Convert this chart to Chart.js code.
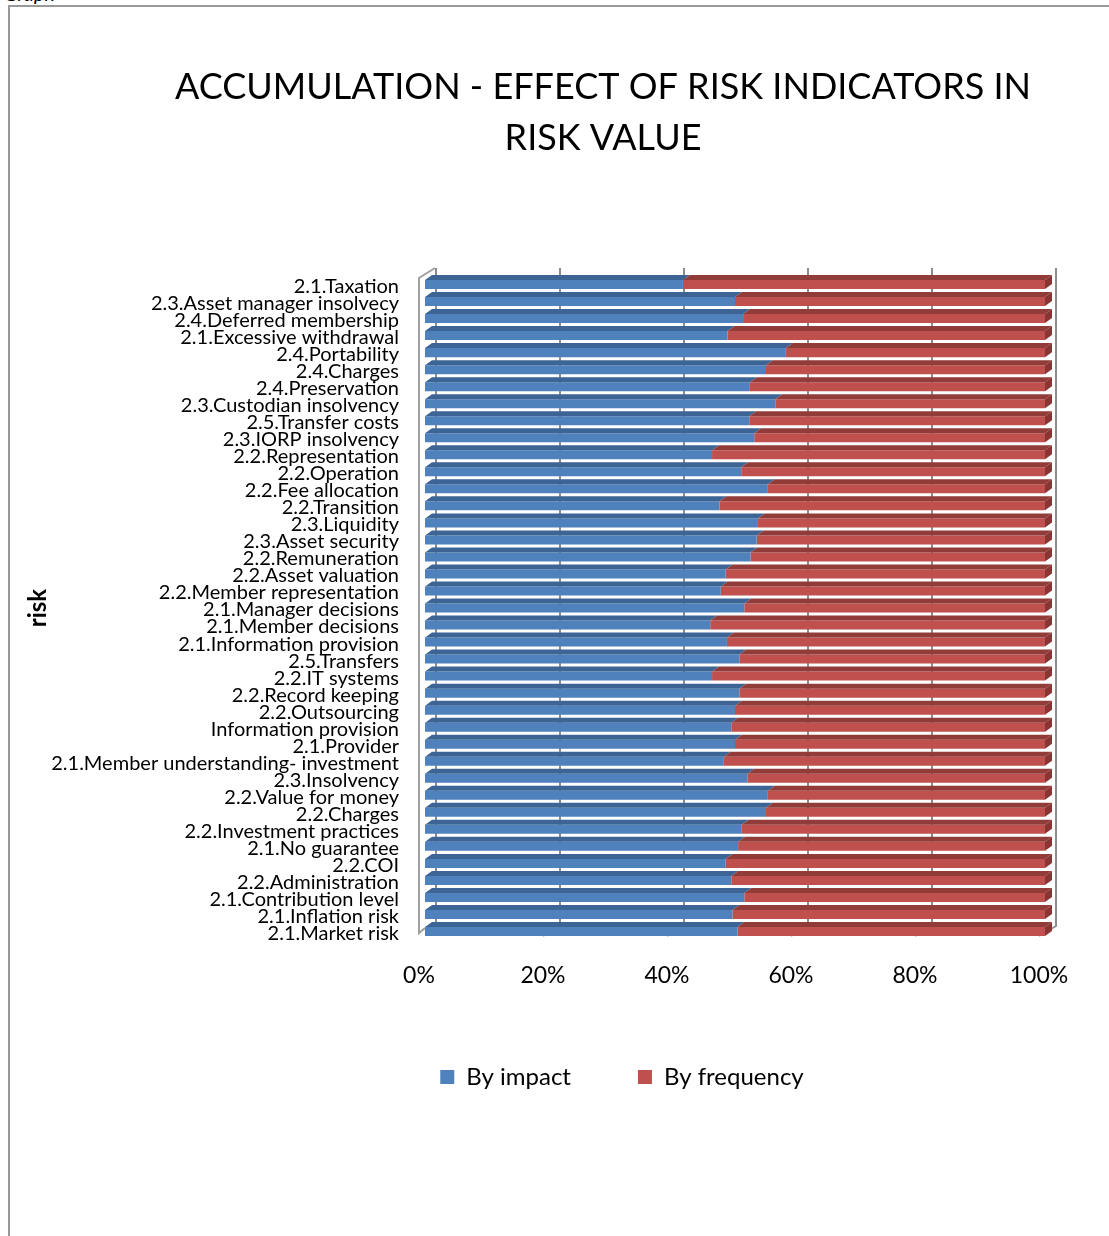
<!DOCTYPE html>
<html>
<head>
<meta charset="utf-8">
<script src="https://cdn.jsdelivr.net/npm/chart.js@4.4.1/dist/chart.umd.min.js"></script>
<style>
	html, body {margin:0; padding:0; background:#fff; overflow:hidden;}
	#frame {position:absolute; left:8px; top:5px; width:1200px; height:1300px; border:2px solid #999;}
	#cut {position:absolute; left:4px; top:-19px; font:italic 20px 'Lato'; color:#000;}
	#wrap {position:absolute; left:0; top:0; width:1186px; height:1236px;}
</style>
</head>
<body>
<div id="cut">Graph</div>
<div id="frame"></div>
<div id="wrap"><canvas id="chart" width="1186" height="1236"></canvas></div>
<script>
// categories, top to bottom as shown
const risks = [
	'2.1.Taxation', '2.3.Asset manager insolvecy', '2.4.Deferred membership', '2.1.Excessive withdrawal',
	'2.4.Portability', '2.4.Charges', '2.4.Preservation', '2.3.Custodian insolvency', '2.5.Transfer costs',
	'2.3.IORP insolvency', '2.2.Representation', '2.2.Operation', '2.2.Fee allocation', '2.2.Transition',
	'2.3.Liquidity', '2.3.Asset security', '2.2.Remuneration', '2.2.Asset valuation', '2.2.Member representation',
	'2.1.Manager decisions', '2.1.Member decisions', '2.1.Information provision', '2.5.Transfers', '2.2.IT systems',
	'2.2.Record keeping', '2.2.Outsourcing', 'Information provision', '2.1.Provider',
	'2.1.Member understanding- investment', '2.3.Insolvency', '2.2.Value for money', '2.2.Charges',
	'2.2.Investment practices', '2.1.No guarantee', '2.2.COI', '2.2.Administration', '2.1.Contribution level',
	'2.1.Inflation risk', '2.1.Market risk'
];
// share in %
const byImpact = [
	41.6, 50.0, 51.3, 48.8, 58.2, 55.0, 52.4, 56.5, 52.3, 53.1,
	46.3, 51.0, 55.3, 47.5, 53.7, 53.5, 52.5, 48.5, 47.7, 51.5,
	46.0, 48.7, 50.7, 46.3, 50.7, 50.0, 49.4, 50.0, 48.2, 52.0,
	55.3, 55.0, 51.1, 50.5, 48.5, 49.4, 51.5, 49.6, 50.4
];
const byFrequency = [
	58.4, 50.0, 48.7, 51.2, 41.8, 45.0, 47.6, 43.5, 47.7, 46.9,
	53.7, 49.0, 44.7, 52.5, 46.3, 46.5, 47.5, 51.5, 52.3, 48.5,
	54.0, 51.3, 49.3, 53.7, 49.3, 50.0, 50.6, 50.0, 51.8, 48.0,
	44.7, 45.0, 48.9, 49.5, 51.5, 50.6, 48.5, 50.4, 49.6
];
const xTicks = [0, 20, 40, 60, 80, 100];

const FONT = 'Lato';

// fake 3D: back walls, gridlines and bar depth
const depth3d = {
	id: 'depth3d',
	afterLayout(chart) {
		// legend sits a little right of the title centre
		chart.legend.left += 19;
		chart.legend.right += 19;
	},
	beforeDatasetsDraw(chart) {
		const ctx = chart.ctx, xs = chart.scales.x, a = chart.chartArea;
		ctx.save();
		ctx.strokeStyle = '#8c8c8c';
		ctx.lineWidth = 2;
		xTicks.forEach(v => {
			let px = xs.getPixelForValue(v);
			ctx.beginPath();
			ctx.moveTo(px + 11, a.top - 8);
			ctx.lineTo(px + 11, a.bottom - 14);
			if (v > 0) ctx.lineTo(px - 6, a.bottom - 4);
			ctx.stroke();
		});
		// left wall edge
		let x0 = xs.getPixelForValue(0) - 6;
		ctx.strokeStyle = '#a0a0a0';
		ctx.beginPath();
		ctx.moveTo(x0 + 16, a.top - 8);
		ctx.lineTo(x0, a.top + 2);
		ctx.lineTo(x0, a.bottom - 7);
		ctx.lineTo(x0 + 6, a.bottom - 12);
		ctx.stroke();
		ctx.restore();
	},
	afterDatasetsDraw(chart) {
		const ctx = chart.ctx;
		const dx = 7, dy = 5;
		const tops = ['#3c6596', '#923c3a'];
		ctx.save();
		chart.data.datasets.forEach((ds, i) => {
			chart.getDatasetMeta(i).data.forEach(bar => {
				let p = bar.getProps(['x', 'y', 'base', 'height'], true);
				let top = p.y - p.height / 2, bot = p.y + p.height / 2;
				ctx.fillStyle = tops[i];
				ctx.beginPath();
				ctx.moveTo(p.base, top);
				ctx.lineTo(p.x, top);
				ctx.lineTo(p.x + dx, top - dy);
				ctx.lineTo(p.base + dx, top - dy);
				ctx.closePath();
				ctx.fill();
				if (i == chart.data.datasets.length - 1) {
					ctx.fillStyle = '#8a3533';
					ctx.beginPath();
					ctx.moveTo(p.x, top);
					ctx.lineTo(p.x + dx, top - dy);
					ctx.lineTo(p.x + dx, bot - dy);
					ctx.lineTo(p.x, bot);
					ctx.closePath();
					ctx.fill();
				}
			});
		});
		ctx.restore();
	}
};

new Chart(document.getElementById('chart'), {
	type: 'bar',
	data: {
		labels: risks,
		datasets: [
			{label: 'By impact', data: byImpact, backgroundColor: '#4f81bd', borderWidth: 0},
			{label: 'By frequency', data: byFrequency, backgroundColor: '#c0504d', borderWidth: 0}
		]
	},
	options: {
		indexAxis: 'y',
		responsive: false,
		animation: false,
		layout: {padding: {left: 20, right: 0, top: 0, bottom: 137}},
		plugins: {
			title: {
				display: true,
				text: ['ACCUMULATION - EFFECT OF RISK INDICATORS IN', 'RISK VALUE'],
				color: '#000',
				font: {family: FONT, size: 36, weight: 'normal', lineHeight: 1.417},
				padding: {top: 61.5, bottom: 112.5}
			},
			legend: {
				position: 'bottom',
				labels: {
					color: '#000',
					font: {family: FONT, size: 24},
					boxWidth: 14,
					boxHeight: 14,
					padding: 67
				}
			},
			tooltip: {enabled: false}
		},
		datasets: {bar: {categoryPercentage: 1, barPercentage: 0.53}},
		scales: {
			x: {
				stacked: true,
				min: 0,
				max: 100,
				grid: {display: false, drawTicks: false},
				border: {display: false},
				ticks: {
					stepSize: 20,
					padding: 22,
					labelOffset: -6,
					color: '#000',
					font: {family: FONT, size: 23},
					callback: v => v + '%'
				},
				afterFit: s => { s.height = 58; }
			},
			y: {
				stacked: true,
				grid: {display: false, drawTicks: false},
				border: {display: false},
				ticks: {
					autoSkip: false,
					padding: 26,
					labelOffset: 2,
					color: '#000',
					font: {family: FONT, size: 20, lineHeight: 1}
				},
				title: {
					display: true,
					text: 'risk',
					color: '#000',
					font: {family: FONT, size: 24, weight: 'bold'}
				},
				afterFit: s => { s.width = 405; }
			},
			yR: {
				type: 'category',
				position: 'right',
				grid: {display: false, drawTicks: false},
				border: {display: false},
				ticks: {display: false},
				afterFit: s => { s.width = 141; }
			}
		}
	},
	plugins: [depth3d]
});
</script>
</body>
</html>
